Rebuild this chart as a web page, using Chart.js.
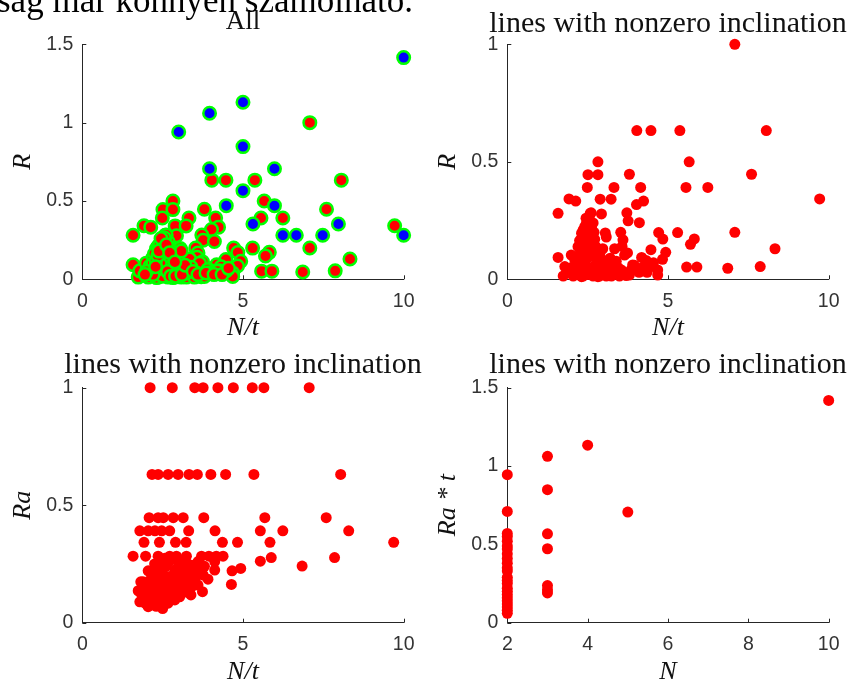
<!DOCTYPE html>
<html>
<head>
<meta charset="utf-8">
<script src="https://cdn.jsdelivr.net/npm/chart.js@4"></script>
<style>
  body { margin: 0; width: 850px; height: 684px; overflow: hidden; background: #fff; position: relative; }
  canvas { position: absolute; }
  #caption { position: absolute; left: -3px; top: -17px; font: 35px 'Liberation Serif', serif; line-height: 35px; white-space: nowrap; color: #000; }
</style>
</head>
<body>
<canvas id="all" width="425" height="342" style="left:0;top:0"></canvas>
<canvas id="nzR" width="425" height="342" style="left:425px;top:0"></canvas>
<canvas id="nzRa" width="425" height="342" style="left:0;top:342px"></canvas>
<canvas id="nzRat" width="425" height="342" style="left:425px;top:342px"></canvas>
<div id="caption">ság már könnyen számolható.</div>
<script>
// lines with nonzero inclination: N/t and R
var nzNt = [
  7.08, 4.03, 4.47, 5.37, 8.06, 2.82, 5.66, 2.51, 2.82, 3.80, 7.60, 2.49, 3.32, 4.15, 5.56, 6.24,
  1.92, 2.13, 2.89, 3.23, 4.24, 4.02, 9.72, 1.58, 2.58, 2.93, 3.72, 3.76, 4.11, 2.46, 2.67, 3.05,
  3.53, 3.60, 3.57, 4.71, 4.84, 5.30, 7.08, 5.82, 5.70, 8.33, 4.93, 4.47, 4.83, 3.74, 1.58, 4.18,
  4.32, 5.58, 5.90, 6.86, 7.87, 4.68, 4.68, 3.95, 4.27, 4.47, 2.97, 3.34, 2.69, 3.65,
  1.74, 2.05, 2.36, 2.67, 2.87, 3.08, 3.24, 3.49, 3.70, 1.79, 2.05, 2.25, 2.46, 2.62, 3.03, 3.28,
  3.55, 3.80, 3.90, 4.21, 1.99, 2.10, 2.51, 3.03, 3.39, 2.41, 2.72, 2.15, 2.31, 2.61, 2.82, 3.24, 3.96,
  2.31, 2.36, 2.31, 2.20, 2.25, 2.51, 2.46, 2.41, 2.56, 2.51, 2.61, 3.08, 2.20, 2.30, 2.40, 2.45,
  2.50, 2.55, 2.60, 2.65, 2.70, 2.75, 2.80, 2.85, 2.40, 2.50, 2.30, 2.20, 2.00, 1.95, 2.55, 2.45,
  2.35, 2.65, 2.75, 2.90, 3.10, 3.20, 3.45, 3.60, 3.85, 4.10, 4.35, 4.55, 2.38, 2.28, 2.62, 2.72, 2.88
];
var nzR = [
  1.00, 0.633, 0.633, 0.633, 0.633, 0.50, 0.50, 0.445, 0.445, 0.447, 0.447, 0.391, 0.391, 0.391, 0.391, 0.391,
  0.342, 0.333, 0.341, 0.341, 0.333, 0.318, 0.342, 0.281, 0.281, 0.278, 0.283, 0.249, 0.241, 0.238, 0.240, 0.197,
  0.200, 0.168, 0.140, 0.199, 0.171, 0.199, 0.200, 0.172, 0.149, 0.130, 0.115, 0.126, 0.085, 0.112, 0.093, 0.093,
  0.080, 0.052, 0.052, 0.047, 0.054, 0.040, 0.018, 0.060, 0.055, 0.054, 0.130, 0.130, 0.128, 0.103,
  0.014, 0.014, 0.014, 0.014, 0.014, 0.014, 0.014, 0.014, 0.016, 0.054, 0.047, 0.061, 0.054, 0.040, 0.047, 0.054,
  0.040, 0.018, 0.061, 0.051, 0.103, 0.083, 0.092, 0.079, 0.077, 0.065, 0.058, 0.040, 0.011, 0.033, 0.011, 0.040, 0.042,
  0.196, 0.210, 0.174, 0.139, 0.165, 0.153, 0.196, 0.224, 0.196, 0.245, 0.283, 0.180, 0.100, 0.120, 0.100, 0.140,
  0.180, 0.120, 0.160, 0.100, 0.200, 0.140, 0.090, 0.050, 0.040, 0.020, 0.060, 0.030, 0.050, 0.030, 0.265, 0.260,
  0.150, 0.050, 0.020, 0.020, 0.030, 0.090, 0.050, 0.030, 0.040, 0.030, 0.030, 0.070, 0.180, 0.080, 0.220, 0.170, 0.110
];

// lines with zero inclination (blue in "All")
var zeroNt = [10.0, 5.0, 3.96, 3.0, 5.0, 3.96, 5.98, 5.0, 4.48, 5.98, 5.31, 7.97, 6.24, 6.66, 7.48, 10.0];
var zeroR = [1.415, 1.13, 1.06, 0.94, 0.847, 0.706, 0.706, 0.566, 0.47, 0.47, 0.353, 0.353, 0.281, 0.281, 0.281, 0.281];

// Ra against N/t
var raNt = [
  2.11, 2.80, 3.50, 3.76, 4.22, 4.70, 5.29, 5.65, 7.06,
  2.17, 2.36, 2.67, 2.98, 3.32, 3.58, 4.00, 4.46, 5.34, 8.04,
  2.08, 2.36, 2.52, 2.83, 3.14, 3.78, 5.68, 7.59,
  1.79, 2.05, 2.26, 2.47, 2.72, 3.31, 4.13, 5.54, 6.24, 8.29,
  1.92, 2.40, 2.90, 3.23, 4.36, 4.83, 5.84, 9.69,
  1.58, 1.97, 2.36, 2.72, 2.93, 3.24, 3.71, 3.94, 4.17, 4.38, 5.88, 7.85, 5.54, 6.84,
  4.12, 2.05, 4.66, 4.93, 4.64, 3.74, 3.38, 3.91, 3.69, 3.40, 3.21, 1.82, 1.74, 1.79, 2.05, 4.12,
  2.36, 2.57, 2.93, 3.24, 3.50, 3.71, 3.50, 2.98, 2.78, 2.47, 2.20, 1.95, 1.89, 2.20, 2.47, 2.67,
  2.88, 3.09, 2.57, 2.36, 2.10, 2.26, 2.67, 3.03, 3.19, 3.40, 2.47, 2.00, 3.34, 3.60, 3.76, 2.36,
  2.67, 2.88, 2.30, 2.55, 2.75, 2.60, 2.15, 2.85, 3.00, 2.45, 2.20, 2.60, 2.90, 3.15, 3.30, 2.15,
  2.50, 3.60, 3.80, 3.00, 1.85, 2.10, 2.30, 2.40, 2.60, 2.70, 2.80, 2.95, 3.10, 3.25, 3.45, 2.25, 1.95
];
var raVal = [
  1, 1, 1, 1, 1, 1, 1, 1, 1,
  0.631, 0.631, 0.631, 0.631, 0.631, 0.631, 0.631, 0.631, 0.631, 0.631,
  0.447, 0.447, 0.447, 0.447, 0.447, 0.447, 0.447, 0.447,
  0.391, 0.391, 0.391, 0.391, 0.391, 0.391, 0.391, 0.391, 0.391, 0.391,
  0.342, 0.342, 0.342, 0.342, 0.342, 0.342, 0.342, 0.342,
  0.283, 0.283, 0.283, 0.283, 0.283, 0.283, 0.283, 0.283, 0.283, 0.283, 0.277, 0.277, 0.262, 0.241,
  0.224, 0.221, 0.221, 0.231, 0.163, 0.132, 0.118, 0.185, 0.224, 0.245, 0.267, 0.174, 0.136, 0.089, 0.068, 0.260,
  0.245, 0.274, 0.267, 0.238, 0.231, 0.217, 0.182, 0.146, 0.110, 0.097, 0.083, 0.083, 0.174, 0.189, 0.217, 0.196,
  0.224, 0.203, 0.153, 0.139, 0.132, 0.110, 0.118, 0.110, 0.160, 0.153, 0.174, 0.110, 0.182, 0.160, 0.203, 0.075,
  0.083, 0.097, 0.160, 0.200, 0.160, 0.240, 0.150, 0.180, 0.240, 0.130, 0.220, 0.100, 0.130, 0.200, 0.210, 0.100,
  0.060, 0.260, 0.240, 0.190, 0.120, 0.180, 0.070, 0.200, 0.140, 0.260, 0.200, 0.160, 0.250, 0.130, 0.200, 0.250, 0.140
];

// Ra*t against N
var ratN = [
  2, 2, 2, 2, 2, 2, 2, 2, 2, 2, 2, 2, 2, 2, 2, 2, 2, 2, 2, 2, 2, 2, 2, 2,
  3, 3, 3, 3, 3, 3, 3,
  4, 5, 10
];
var ratVal = [
  0.945, 0.71, 0.57, 0.55, 0.52, 0.49, 0.47, 0.44, 0.41, 0.38, 0.35, 0.33, 0.29, 0.27, 0.25, 0.22, 0.20, 0.18, 0.16, 0.14, 0.12, 0.10, 0.08, 0.06,
  1.062, 0.849, 0.567, 0.472, 0.237, 0.21, 0.19,
  1.133, 0.706, 1.419
];

function pts(xs, ys) {
  return xs.map(function (x, i) { return { x: x, y: ys[i] }; });
}

var tickFont = { family: "'Liberation Sans', Arial, sans-serif", size: 19.5 };
var labelFont = { family: "'Liberation Serif', serif", size: 26, style: 'italic', lineHeight: 1 };

// MATLAB style ticks pointing into the axes
var inwardTicks = {
  id: 'inwardTicks',
  beforeDatasetsDraw: function (chart) {
    var ctx = chart.ctx, a = chart.chartArea, sx = chart.scales.x, sy = chart.scales.y;
    ctx.save();
    ctx.strokeStyle = '#262626';
    ctx.lineWidth = 1;
    ctx.beginPath();
    sx.ticks.forEach(function (t) {
      var px = Math.round(sx.getPixelForValue(t.value)) + 0.5;
      ctx.moveTo(px, a.bottom);
      ctx.lineTo(px, a.bottom - 4);
    });
    sy.ticks.forEach(function (t) {
      var py = Math.round(sy.getPixelForValue(t.value)) + 0.5;
      ctx.moveTo(a.left, py);
      ctx.lineTo(a.left + 4, py);
    });
    ctx.stroke();
    ctx.restore();
  }
};

// title centred over the axes box (may run wider than the box)
var axesTitle = {
  id: 'axesTitle',
  afterDraw: function (chart, args, opts) {
    var ctx = chart.ctx, a = chart.chartArea;
    ctx.save();
    ctx.font = opts.size + "px 'Liberation Serif', serif";
    ctx.fillStyle = '#111';
    ctx.textAlign = 'center';
    ctx.textBaseline = 'alphabetic';
    ctx.fillText(opts.text, (a.left + a.right) / 2, opts.baseline);
    ctx.restore();
  }
};

function redSet(data) {
  return { data: data, backgroundColor: '#ff0000', borderWidth: 0, pointRadius: 5.5, pointHoverRadius: 5.5, clip: false };
}

// plain number labels: 0, 0.5, 1, 1.5
function plain(v) { return String(v); }

function makePanel(id, c) {
  return new Chart(document.getElementById(id), {
    type: 'scatter',
    data: { datasets: c.datasets },
    options: {
      responsive: false,
      animation: false,
      events: [],
      layout: { padding: { left: 0, right: c.padRight, top: c.padTop, bottom: 0 } },
      plugins: {
        legend: { display: false },
        tooltip: { enabled: false },
        title: { display: false },
        axesTitle: { text: c.title, size: c.titleSize, baseline: c.titleBase }
      },
      scales: {
        x: {
          type: 'linear', min: c.xMin, max: c.xMax,
          ticks: { stepSize: c.xStep, color: '#333', font: tickFont, padding: 10.5, maxRotation: 0, callback: plain },
          grid: { display: false, drawTicks: false },
          border: { color: '#262626', width: 1 },
          title: { display: true, text: c.xLabel, color: '#111', font: labelFont, padding: { top: 0, bottom: c.xTitleBottom } },
          afterFit: function (s) { s.height = c.xAxisH; }
        },
        y: {
          type: 'linear', min: 0, max: c.yMax,
          ticks: { stepSize: 0.5, color: '#333', font: tickFont, padding: 9, callback: plain },
          grid: { display: false, drawTicks: false },
          border: { color: '#262626', width: 1 },
          title: { display: true, text: c.yLabel, color: '#111', font: labelFont, padding: { top: 10, bottom: 0 } },
          afterFit: function (s) { s.width = 82.3; }
        }
      }
    },
    plugins: [inwardTicks, axesTitle]
  });
}

var ringed = {
  backgroundColor: '#ff0000', borderColor: '#00ff00', borderWidth: 2.5,
  pointRadius: 6.25, pointHoverRadius: 6.25, clip: false
};

var longTitle = 'lines with nonzero inclination';

makePanel('all', {
  title: 'All', titleSize: 27, titleBase: 29, padTop: 44.3, padRight: 21, xAxisH: 62.7, xTitleBottom: 1,
  xMin: 0, xMax: 10, xStep: 5, yMax: 1.5, xLabel: 'N/t', yLabel: 'R',
  datasets: [
    Object.assign({}, ringed, { data: pts(zeroNt, zeroR), backgroundColor: '#0000ff' }),
    Object.assign({}, ringed, { data: pts(nzNt, nzR) })
  ]
});

makePanel('nzR', {
  title: longTitle, titleSize: 30, titleBase: 31.7, padTop: 44.3, padRight: 20, xAxisH: 62.7, xTitleBottom: 1,
  xMin: 0, xMax: 10, xStep: 5, yMax: 1, xLabel: 'N/t', yLabel: 'R',
  datasets: [redSet(pts(nzNt, nzR))]
});

makePanel('nzRa', {
  title: longTitle, titleSize: 30, titleBase: 31, padTop: 45.7, padRight: 21, xAxisH: 61.3, xTitleBottom: -1,
  xMin: 0, xMax: 10, xStep: 5, yMax: 1, xLabel: 'N/t', yLabel: 'Ra',
  datasets: [redSet(pts(raNt, raVal))]
});

makePanel('nzRat', {
  title: longTitle, titleSize: 30, titleBase: 31, padTop: 45.7, padRight: 20, xAxisH: 61.3, xTitleBottom: -1,
  xMin: 2, xMax: 10, xStep: 2, yMax: 1.5, xLabel: 'N', yLabel: 'Ra * t',
  datasets: [redSet(pts(ratN, ratVal))]
});
</script>
</body>
</html>
